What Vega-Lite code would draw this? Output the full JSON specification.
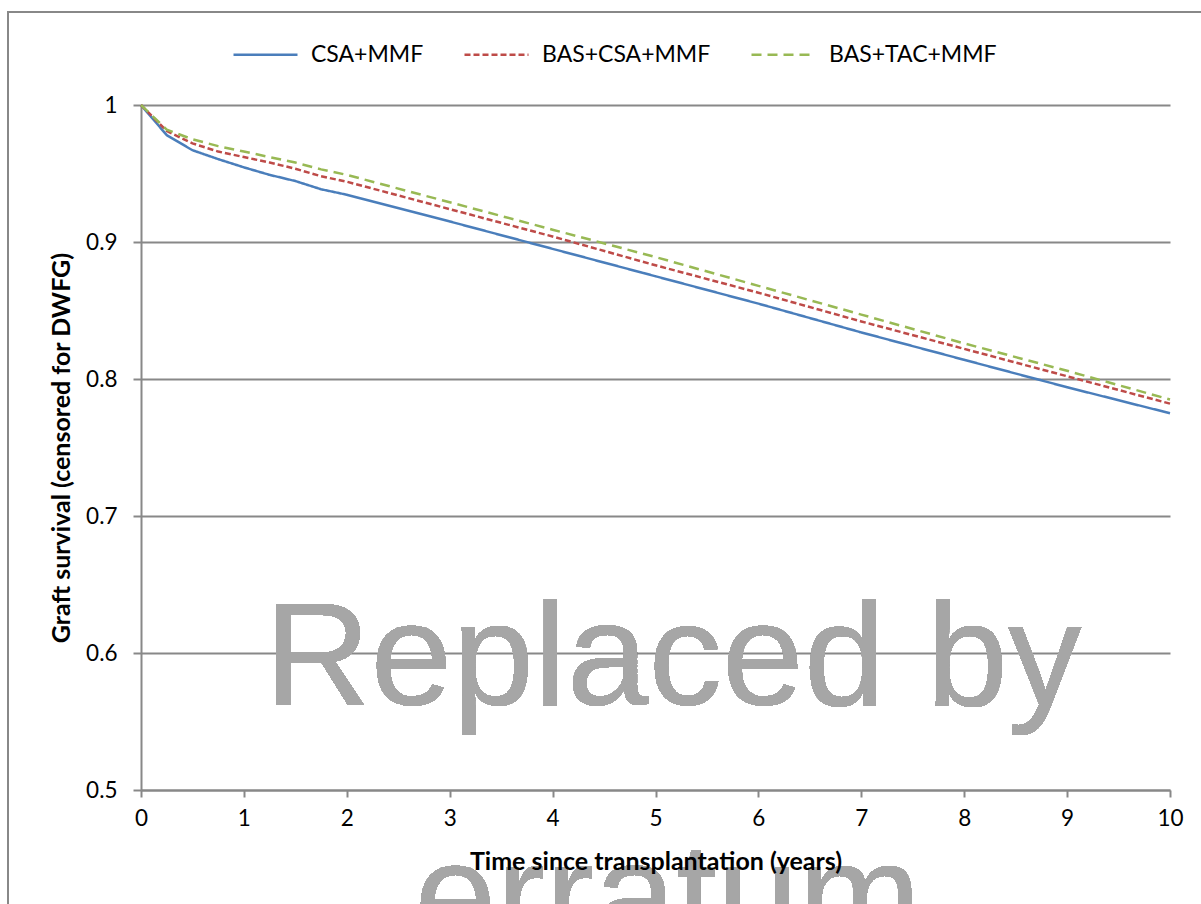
{
  "$schema": "https://vega.github.io/schema/vega-lite/v6.json",
  "autosize": "none",
  "width": 1029,
  "height": 685,
  "padding": {"left": 141, "top": 105, "right": 31, "bottom": 114},
  "background": "white",
  "config": {
    "view": {"stroke": null},
    "font": "Lato",
    "axis": {
      "domainColor": "#888888", "domainWidth": 2,
      "tickColor": "#888888", "tickWidth": 2,
      "gridColor": "#888888", "gridWidth": 2,
      "labelFont": "Lato", "labelFontSize": 22.5, "labelColor": "#000000",
      "titleFont": "Lato", "titleFontSize": 25, "titleFontWeight": "bold", "titleColor": "#000000"
    },
    "legend": {
      "labelFont": "Lato", "labelFontSize": 23, "labelColor": "#000000", "labelLimit": 400
    }
  },
  "data": {
    "values": [
      {"group": "CSA+MMF", "t": 0, "s": 1},
      {"group": "CSA+MMF", "t": 0.25, "s": 0.978},
      {"group": "CSA+MMF", "t": 0.5, "s": 0.967},
      {"group": "CSA+MMF", "t": 0.75, "s": 0.9605},
      {"group": "CSA+MMF", "t": 1, "s": 0.9545},
      {"group": "CSA+MMF", "t": 1.25, "s": 0.949},
      {"group": "CSA+MMF", "t": 1.5, "s": 0.9445},
      {"group": "CSA+MMF", "t": 1.75, "s": 0.9385},
      {"group": "CSA+MMF", "t": 2, "s": 0.9345},
      {"group": "CSA+MMF", "t": 3, "s": 0.915},
      {"group": "CSA+MMF", "t": 4, "s": 0.895},
      {"group": "CSA+MMF", "t": 5, "s": 0.875},
      {"group": "CSA+MMF", "t": 6, "s": 0.855},
      {"group": "CSA+MMF", "t": 7, "s": 0.834},
      {"group": "CSA+MMF", "t": 8, "s": 0.814},
      {"group": "CSA+MMF", "t": 9, "s": 0.794},
      {"group": "CSA+MMF", "t": 10, "s": 0.775},
      {"group": "BAS+CSA+MMF", "t": 0, "s": 1},
      {"group": "BAS+CSA+MMF", "t": 0.25, "s": 0.981},
      {"group": "BAS+CSA+MMF", "t": 0.5, "s": 0.972},
      {"group": "BAS+CSA+MMF", "t": 0.75, "s": 0.966},
      {"group": "BAS+CSA+MMF", "t": 1, "s": 0.962},
      {"group": "BAS+CSA+MMF", "t": 1.25, "s": 0.958},
      {"group": "BAS+CSA+MMF", "t": 1.5, "s": 0.9535},
      {"group": "BAS+CSA+MMF", "t": 1.75, "s": 0.948},
      {"group": "BAS+CSA+MMF", "t": 2, "s": 0.944},
      {"group": "BAS+CSA+MMF", "t": 3, "s": 0.924},
      {"group": "BAS+CSA+MMF", "t": 4, "s": 0.904},
      {"group": "BAS+CSA+MMF", "t": 5, "s": 0.883},
      {"group": "BAS+CSA+MMF", "t": 6, "s": 0.863},
      {"group": "BAS+CSA+MMF", "t": 7, "s": 0.842},
      {"group": "BAS+CSA+MMF", "t": 8, "s": 0.822},
      {"group": "BAS+CSA+MMF", "t": 9, "s": 0.802},
      {"group": "BAS+CSA+MMF", "t": 10, "s": 0.782},
      {"group": "BAS+TAC+MMF", "t": 0, "s": 1},
      {"group": "BAS+TAC+MMF", "t": 0.25, "s": 0.982},
      {"group": "BAS+TAC+MMF", "t": 0.5, "s": 0.975},
      {"group": "BAS+TAC+MMF", "t": 0.75, "s": 0.97},
      {"group": "BAS+TAC+MMF", "t": 1, "s": 0.966},
      {"group": "BAS+TAC+MMF", "t": 1.25, "s": 0.962},
      {"group": "BAS+TAC+MMF", "t": 1.5, "s": 0.958},
      {"group": "BAS+TAC+MMF", "t": 1.75, "s": 0.953},
      {"group": "BAS+TAC+MMF", "t": 2, "s": 0.949},
      {"group": "BAS+TAC+MMF", "t": 3, "s": 0.929},
      {"group": "BAS+TAC+MMF", "t": 4, "s": 0.909},
      {"group": "BAS+TAC+MMF", "t": 5, "s": 0.889},
      {"group": "BAS+TAC+MMF", "t": 6, "s": 0.868},
      {"group": "BAS+TAC+MMF", "t": 7, "s": 0.847},
      {"group": "BAS+TAC+MMF", "t": 8, "s": 0.826},
      {"group": "BAS+TAC+MMF", "t": 9, "s": 0.806},
      {"group": "BAS+TAC+MMF", "t": 10, "s": 0.785}
    ]
  },
  "layer": [
    {
      "mark": {"type": "rect", "fill": null, "stroke": "#888888", "strokeWidth": 2},
      "encoding": {
        "x": {"datum": -1.2925, "type": "quantitative"},
        "x2": {"datum": 12},
        "y": {"datum": 1.0679, "type": "quantitative"},
        "y2": {"datum": 0.2}
      }
    },
    {
      "mark": {"type": "line", "strokeWidth": 2.5},
      "encoding": {
        "x": {
          "field": "t", "type": "quantitative",
          "scale": {"domain": [0, 10], "nice": false},
          "axis": {
            "values": [0,1,2,3,4,5,6,7,8,9,10],
            "format": "d", "labelFlush": false,
            "grid": false, "tickSize": 7, "labelPadding": 10,
            "title": "Time since transplantation (years)", "titlePadding": 20,
            "zindex": 1
          }
        },
        "y": {
          "field": "s", "type": "quantitative",
          "scale": {"domain": [0.5, 1], "nice": false, "zero": false},
          "axis": {
            "values": [0.5, 0.6, 0.7, 0.8, 0.9, 1],
            "format": ".1~f", "labelFlush": false,
            "grid": true, "tickSize": 8, "labelPadding": 16,
            "title": "Graft survival (censored for DWFG)", "titlePadding": 11
          }
        },
        "color": {
          "field": "group", "type": "nominal",
          "scale": {
            "domain": ["CSA+MMF", "BAS+CSA+MMF", "BAS+TAC+MMF"],
            "range": ["#4A7EBB", "#BE4B48", "#98B954"]
          },
          "legend": {
            "title": null, "orient": "none", "direction": "horizontal",
            "legendX": 91, "legendY": -84,
            "symbolType": "stroke", "symbolSize": 4096, "symbolStrokeWidth": 2.5,
            "labelOffset": 12, "columnPadding": 35
          }
        },
        "strokeDash": {
          "field": "group", "type": "nominal",
          "scale": {
            "domain": ["CSA+MMF", "BAS+CSA+MMF", "BAS+TAC+MMF"],
            "range": [[1, 0], [6, 3], [10, 6]]
          },
          "legend": null
        },
        "order": {"field": "t", "type": "quantitative"}
      }
    },
    {
      "mark": {"type": "text", "text": "Replaced by", "font": "Liberation Sans", "fontSize": 147, "fill": "#a6a6a6", "align": "center", "baseline": "alphabetic"},
      "encoding": {
        "x": {"datum": 5.17, "type": "quantitative"},
        "y": {"datum": 0.562, "type": "quantitative"}
      }
    },
    {
      "mark": {"type": "text", "text": "erratum", "font": "Liberation Sans", "fontSize": 147, "fill": "#a6a6a6", "align": "center", "baseline": "alphabetic"},
      "encoding": {
        "x": {"datum": 5.12, "type": "quantitative"},
        "y": {"datum": 0.387, "type": "quantitative"}
      }
    }
  ]
}
